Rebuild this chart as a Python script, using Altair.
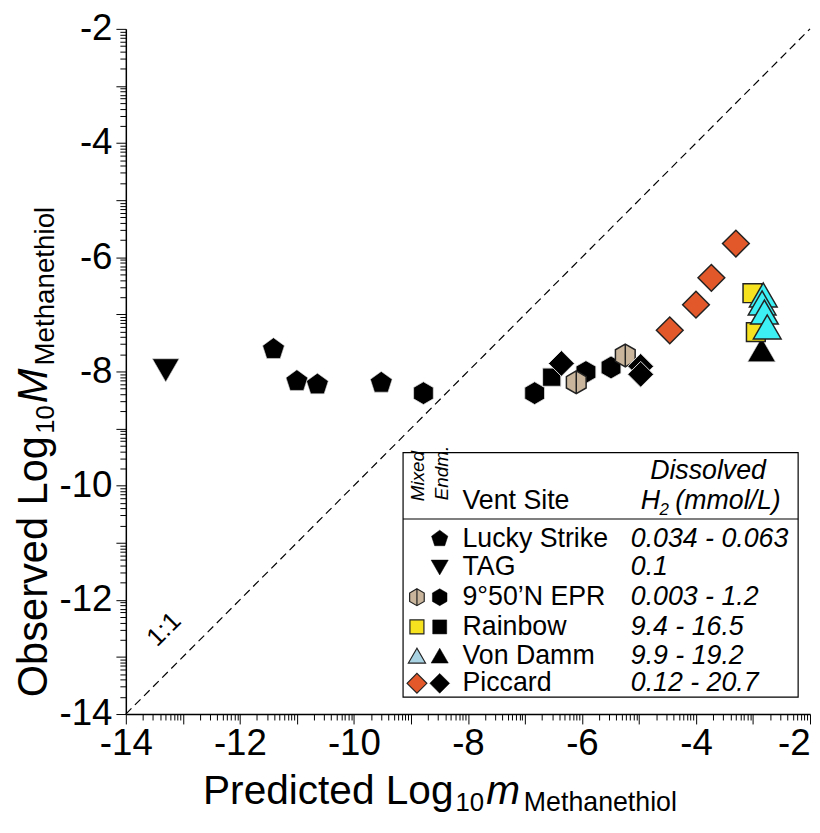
import altair as alt
import pandas as pd
import numpy as np

# ---------------- data ----------------
lucky_x = [-11.41, -11.00, -10.64, -9.52]
lucky_y = [-7.61, -8.17, -8.23, -8.20]
tag_x = [-13.30]
tag_y = [-7.98]
epr_end_x = [-8.78, -6.83, -5.93, -5.49]
epr_end_y = [-8.38, -8.38, -8.01, -7.93]
epr_mix_x = [-6.10, -5.24]
epr_mix_y = [-8.19, -7.72]
rain_end_x = [-6.53]
rain_end_y = [-8.10]
rain_mix_x = [-3.01, -2.95]
rain_mix_y = [-6.63, -7.31]
vd_mix_x = [-2.82, -2.84, -2.80, -2.75]
vd_mix_y = [-6.66, -6.80, -6.96, -7.22]
vd_end_x = [-2.85]
vd_end_y = [-7.62]
pic_end_x = [-6.36, -4.97, -4.97]
pic_end_y = [-7.86, -7.91, -8.05]
pic_mix_x = [-4.46, -4.00, -3.73, -3.30]
pic_mix_y = [-7.28, -6.83, -6.36, -5.76]

one_to_one = [-14, -2]

legend_sites = ["Lucky Strike", "TAG", "9°50’N EPR", "Rainbow", "Von Damm", "Piccard"]
legend_h2 = ["0.034 - 0.063", "0.1", "0.003 - 1.2", "9.4 - 16.5", "9.9 - 19.2", "0.12 - 20.7"]

major_ticks = list(range(-14, -1))
minor_ticks = [round(i + float(np.log10(k)), 4) for i in range(-14, -2) for k in range(2, 10)]
all_ticks = sorted(major_ticks + minor_ticks)

# ---------------- styling ----------------
FONT = "Liberation Sans"
PENT = "M0,-1L0.951,-0.309L0.588,0.809L-0.588,0.809L-0.951,-0.309Z"
HEX = "M0,-1L0.866,-0.5L0.866,0.5L0,1L-0.866,0.5L-0.866,-0.5Z"
HEXL = HEX + "M0,-1L0,1"
ORANGE = "#E2582A"
TAN = "#C8B59C"
YELLOW = "#F6E21E"
CYAN = "#3CF0F4"
LBLUE = "#A9D3E3"
EDGE = "#222222"

xscale = alt.Scale(domain=[-14, -2], nice=False, zero=False)
yscale = alt.Scale(domain=[-14, -2], nice=False, zero=False)
tick_size = {"condition": {"test": "datum.value % 1 === 0", "value": 10}, "value": 6}
label_expr = "datum.value % 2 === 0 ? '' + datum.value : ''"
x_align = {"condition": {"test": "datum.value === -2", "value": "right"}, "value": "center"}
xaxis = alt.Axis(values=all_ticks, labelExpr=label_expr, tickSize=tick_size, title=None,
                 grid=False, labelOverlap=False, labelPadding=2, labelAngle=0, labelFlush=False,
                 labelAlign=x_align)
yaxis = alt.Axis(values=all_ticks, labelExpr=label_expr, tickSize=tick_size, title=None,
                 grid=False, labelOverlap=False, labelPadding=4, labelFlush=False)


def pts(xs, ys, shape, size, fill, stroke, sw):
    df = pd.DataFrame({"x": xs, "y": ys})
    return alt.Chart(df).mark_point(
        shape=shape, size=size, filled=True, fill=fill, stroke=stroke,
        strokeWidth=sw, opacity=1, fillOpacity=1, strokeOpacity=1
    ).encode(
        x=alt.X("x:Q", scale=xscale, axis=xaxis),
        y=alt.Y("y:Q", scale=yscale, axis=yaxis),
    )


def txt(s, x, y, size, angle=0, italic=False, align="left", baseline="alphabetic"):
    kw = dict(text=s, font=FONT, fontSize=size, align=align, baseline=baseline, color="black")
    if angle:
        kw["angle"] = angle
    if italic:
        kw["fontStyle"] = "italic"
    return alt.Chart(pd.DataFrame({"t": [s]})).mark_text(**kw).encode(
        x=alt.value(x), y=alt.value(y))


def lpt(x, y, shape, size, fill, stroke, sw):
    return alt.Chart(pd.DataFrame({"t": [0]})).mark_point(
        shape=shape, size=size, filled=True, fill=fill, stroke=stroke,
        strokeWidth=sw, opacity=1, fillOpacity=1
    ).encode(x=alt.value(x), y=alt.value(y))


layers = []

# 1:1 line
line_df = pd.DataFrame({"x": one_to_one, "y": one_to_one})
layers.append(alt.Chart(line_df).mark_line(color="black", strokeWidth=1.2, strokeDash=[8, 5]).encode(
    x=alt.X("x:Q", scale=xscale, axis=xaxis), y=alt.Y("y:Q", scale=yscale, axis=yaxis)))
layers.append(alt.Chart(pd.DataFrame({"x": [-13.33], "y": [-12.52]})).mark_text(
    text="1:1", font=FONT, fontSize=26, angle=315, align="center", baseline="middle", color="black"
).encode(x=alt.X("x:Q", scale=xscale, axis=xaxis), y=alt.Y("y:Q", scale=yscale, axis=yaxis)))

# data points
WEDGE = "#dddddd"
layers.append(pts(tag_x, tag_y, "triangle-down", 729, "black", WEDGE, 0.6))
layers.append(pts(lucky_x, lucky_y, PENT, 535, "black", WEDGE, 0.6))
layers.append(pts(epr_end_x, epr_end_y, HEX, 530, "black", WEDGE, 0.8))
layers.append(pts(rain_end_x, rain_end_y, "square", 340, "black", WEDGE, 1))
layers.append(pts(pic_end_x[:1], pic_end_y[:1], "diamond", 680, "black", WEDGE, 1))
layers.append(pts(epr_mix_x, epr_mix_y, HEXL, 530, TAN, EDGE, 1.5))
layers.append(pts(pic_end_x[1:], pic_end_y[1:], "diamond", 680, "black", WEDGE, 1))
layers.append(pts(pic_mix_x, pic_mix_y, "diamond", 729, ORANGE, EDGE, 1.5))
layers.append(pts(vd_end_x, vd_end_y, "triangle-up", 784, "black", WEDGE, 0.6))
layers.append(pts(rain_mix_x, rain_mix_y, "square", 360, YELLOW, EDGE, 1.5))
layers.append(pts(vd_mix_x, vd_mix_y, "triangle-up", 784, CYAN, EDGE, 1.5))

# legend box (pixel positions relative to plot origin)
BX0, BX1, BY0, BY1 = 280, 679, 428, 675
layers.append(alt.Chart(pd.DataFrame({"t": [0]})).mark_rect(fill="white", stroke="black", strokeWidth=1.2).encode(
    x=alt.value(BX0), x2=alt.value(BX1), y=alt.value(BY0), y2=alt.value(BY1)))
layers.append(alt.Chart(pd.DataFrame({"t": [0]})).mark_rule(color="black", strokeWidth=1.2).encode(
    x=alt.value(BX0), x2=alt.value(BX1), y=alt.value(495)))

layers.append(txt("Mixed", 301, 477, 19, angle=270, italic=True))
layers.append(txt("Endm.", 325, 476, 19, angle=270, italic=True))
layers.append(txt("Vent Site", 340, 485, 27))
layers.append(txt("Dissolved", 588, 455, 27, italic=True, align="center"))
layers.append(txt("H", 520, 485, 27, italic=True))
layers.append(txt("2", 539, 491, 17, italic=True))
layers.append(txt("(mmol/L)", 555, 485, 27, italic=True))

row_y = [515, 544, 574, 604, 633, 661]
MIXX, ENDX, NAMEX, VALX = 294, 317, 340, 510
for i, (s, v) in enumerate(zip(legend_sites, legend_h2)):
    layers.append(txt(s, NAMEX, row_y[i], 27, baseline="middle"))
    layers.append(txt(v, VALX, row_y[i], 27, italic=True, baseline="middle"))

layers.append(lpt(ENDX, row_y[0], PENT, 300, "black", "black", 0.5))
layers.append(lpt(ENDX, row_y[1], "triangle-down", 300, "black", "black", 0.5))
layers.append(lpt(MIXX, row_y[2], HEXL, 290, TAN, EDGE, 1.2))
layers.append(lpt(ENDX, row_y[2], HEX, 290, "black", "black", 0.5))
layers.append(lpt(MIXX, row_y[3], "square", 200, YELLOW, EDGE, 1.2))
layers.append(lpt(ENDX, row_y[3], "square", 200, "black", "black", 0.5))
layers.append(lpt(MIXX, row_y[4], "triangle-up", 300, LBLUE, EDGE, 1.2))
layers.append(lpt(ENDX, row_y[4], "triangle-up", 300, "black", "black", 0.5))
layers.append(lpt(MIXX, row_y[5], "diamond", 400, ORANGE, EDGE, 1.2))
layers.append(lpt(ENDX, row_y[5], "diamond", 400, "black", "black", 0.5))

# axis titles (composed text)
layers.append(txt("Predicted Log", 78, 783, 41))
layers.append(txt("10", 333, 790, 26))
layers.append(txt("m", 364, 783, 41, italic=True))
layers.append(txt("Methanethiol", 402, 790, 27))

layers.append(txt("Observed Log", -80, 675, 42, angle=270))
layers.append(txt("10", -73, 409, 26, angle=270))
layers.append(txt("M", -80, 378, 42, angle=270, italic=True))
layers.append(txt("Methanethiol", -73, 340, 28, angle=270))

chart = alt.layer(*layers).properties(
    width=691, height=692,
    autosize=alt.AutoSizeParams(type="none"),
    padding={"left": 119, "top": 17, "right": 2, "bottom": 110},
).configure_view(stroke=None).configure_axis(
    domainColor="black", domainWidth=1.5, tickColor="black", tickWidth=1,
    labelFont=FONT, labelFontSize=37, labelColor="black",
)

chart.save("out.html", embed_options={"renderer": "svg", "actions": False})
